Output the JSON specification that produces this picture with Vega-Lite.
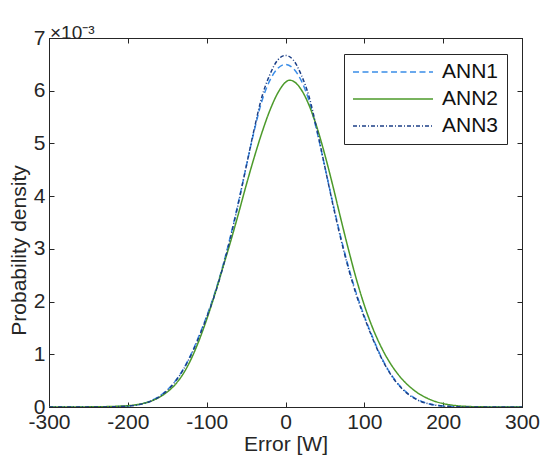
{
  "$schema": "https://vega.github.io/schema/vega-lite/v6.json",
  "width": 473,
  "height": 369,
  "autosize": {"type": "none"},
  "padding": {"left": 49, "top": 38, "right": 18, "bottom": 57},
  "background": "white",
  "title": {"text": "×10⁻³", "anchor": "start", "frame": "group", "fontSize": 19, "font": "Liberation Sans", "fontWeight": "normal", "color": "#262626", "baseline": "alphabetic", "offset": 0, "dy": 31, "dx": 1},
  "config": {
    "view": {"stroke": "#262626", "strokeWidth": 1},
    "axis": {
      "grid": false,
      "domainColor": "#262626",
      "tickColor": "#262626",
      "labelColor": "#262626",
      "titleColor": "#262626",
      "labelFont": "Liberation Sans",
      "titleFont": "Liberation Sans",
      "labelFontSize": 21,
      "titleFontSize": 21,
      "titleFontWeight": "normal",
      "tickSize": -5,
      "labelFlush": false,
      "labelOverlap": false,
      "labelBound": false
    },
    "legend": {
      "orient": "none",
      "legendX": 295,
      "legendY": 16,
      "padding": 8,
      "fillColor": "white",
      "strokeColor": "#262626",
      "symbolType": "stroke",
      "symbolSize": 6400,
      "clipHeight": 20,
      "symbolStrokeWidth": 1.5,
      "labelFont": "Liberation Sans",
      "labelFontSize": 21,
      "labelColor": "#111111",
      "labelOffset": 8,
      "rowPadding": 6,
      "cornerRadius": 0
    }
  },
  "data": {"values": [
    {"error": -300, "density": 0, "model": "ANN1"},
    {"error": -290, "density": 0.00000002, "model": "ANN1"},
    {"error": -280, "density": 0.00000005, "model": "ANN1"},
    {"error": -270, "density": 0.0000001, "model": "ANN1"},
    {"error": -260, "density": 0.0000003, "model": "ANN1"},
    {"error": -250, "density": 0.0000007, "model": "ANN1"},
    {"error": -240, "density": 0.0000015, "model": "ANN1"},
    {"error": -230, "density": 0.000003, "model": "ANN1"},
    {"error": -220, "density": 0.0000045, "model": "ANN1"},
    {"error": -210, "density": 0.0000095, "model": "ANN1"},
    {"error": -200, "density": 0.000019, "model": "ANN1"},
    {"error": -190, "density": 0.000037, "model": "ANN1"},
    {"error": -180, "density": 0.000069, "model": "ANN1"},
    {"error": -170, "density": 0.000122, "model": "ANN1"},
    {"error": -160, "density": 0.000205, "model": "ANN1"},
    {"error": -150, "density": 0.000325, "model": "ANN1"},
    {"error": -140, "density": 0.00049, "model": "ANN1"},
    {"error": -130, "density": 0.00071, "model": "ANN1"},
    {"error": -120, "density": 0.000995, "model": "ANN1"},
    {"error": -110, "density": 0.00134, "model": "ANN1"},
    {"error": -100, "density": 0.00172, "model": "ANN1"},
    {"error": -90, "density": 0.00215, "model": "ANN1"},
    {"error": -80, "density": 0.00265, "model": "ANN1"},
    {"error": -70, "density": 0.00323, "model": "ANN1"},
    {"error": -60, "density": 0.00387, "model": "ANN1"},
    {"error": -50, "density": 0.00455, "model": "ANN1"},
    {"error": -40, "density": 0.00522, "model": "ANN1"},
    {"error": -30, "density": 0.0058, "model": "ANN1"},
    {"error": -20, "density": 0.00619, "model": "ANN1"},
    {"error": -10, "density": 0.00642, "model": "ANN1"},
    {"error": 0, "density": 0.0065, "model": "ANN1"},
    {"error": 10, "density": 0.00642, "model": "ANN1"},
    {"error": 20, "density": 0.00619, "model": "ANN1"},
    {"error": 30, "density": 0.0058, "model": "ANN1"},
    {"error": 40, "density": 0.00522, "model": "ANN1"},
    {"error": 50, "density": 0.00455, "model": "ANN1"},
    {"error": 60, "density": 0.00387, "model": "ANN1"},
    {"error": 70, "density": 0.00323, "model": "ANN1"},
    {"error": 80, "density": 0.00265, "model": "ANN1"},
    {"error": 90, "density": 0.00215, "model": "ANN1"},
    {"error": 100, "density": 0.00172, "model": "ANN1"},
    {"error": 110, "density": 0.00134, "model": "ANN1"},
    {"error": 120, "density": 0.000995, "model": "ANN1"},
    {"error": 130, "density": 0.00071, "model": "ANN1"},
    {"error": 140, "density": 0.00049, "model": "ANN1"},
    {"error": 150, "density": 0.000325, "model": "ANN1"},
    {"error": 160, "density": 0.000205, "model": "ANN1"},
    {"error": 170, "density": 0.000122, "model": "ANN1"},
    {"error": 180, "density": 0.000069, "model": "ANN1"},
    {"error": 190, "density": 0.000037, "model": "ANN1"},
    {"error": 200, "density": 0.000019, "model": "ANN1"},
    {"error": 210, "density": 0.0000095, "model": "ANN1"},
    {"error": 220, "density": 0.0000045, "model": "ANN1"},
    {"error": 230, "density": 0.000002, "model": "ANN1"},
    {"error": 240, "density": 0.000001, "model": "ANN1"},
    {"error": 250, "density": 0.0000005, "model": "ANN1"},
    {"error": 260, "density": 0.0000002, "model": "ANN1"},
    {"error": 270, "density": 0.0000001, "model": "ANN1"},
    {"error": 280, "density": 0.00000005, "model": "ANN1"},
    {"error": 290, "density": 0.00000002, "model": "ANN1"},
    {"error": 300, "density": 0, "model": "ANN1"},

    {"error": -300, "density": 0, "model": "ANN2"},
    {"error": -290, "density": 0.0000002, "model": "ANN2"},
    {"error": -280, "density": 0.0000004, "model": "ANN2"},
    {"error": -270, "density": 0.0000008, "model": "ANN2"},
    {"error": -260, "density": 0.0000015, "model": "ANN2"},
    {"error": -250, "density": 0.0000025, "model": "ANN2"},
    {"error": -240, "density": 0.000004, "model": "ANN2"},
    {"error": -230, "density": 0.000006, "model": "ANN2"},
    {"error": -220, "density": 0.00001, "model": "ANN2"},
    {"error": -210, "density": 0.000016, "model": "ANN2"},
    {"error": -200, "density": 0.000025, "model": "ANN2"},
    {"error": -190, "density": 0.000042, "model": "ANN2"},
    {"error": -180, "density": 0.00007, "model": "ANN2"},
    {"error": -170, "density": 0.000115, "model": "ANN2"},
    {"error": -160, "density": 0.000185, "model": "ANN2"},
    {"error": -150, "density": 0.000285, "model": "ANN2"},
    {"error": -140, "density": 0.000425, "model": "ANN2"},
    {"error": -130, "density": 0.000625, "model": "ANN2"},
    {"error": -120, "density": 0.0009, "model": "ANN2"},
    {"error": -110, "density": 0.00125, "model": "ANN2"},
    {"error": -100, "density": 0.00166, "model": "ANN2"},
    {"error": -90, "density": 0.00212, "model": "ANN2"},
    {"error": -80, "density": 0.00262, "model": "ANN2"},
    {"error": -70, "density": 0.00312, "model": "ANN2"},
    {"error": -60, "density": 0.00365, "model": "ANN2"},
    {"error": -50, "density": 0.0042, "model": "ANN2"},
    {"error": -40, "density": 0.00472, "model": "ANN2"},
    {"error": -30, "density": 0.0052, "model": "ANN2"},
    {"error": -20, "density": 0.00562, "model": "ANN2"},
    {"error": -10, "density": 0.00595, "model": "ANN2"},
    {"error": 0, "density": 0.00616, "model": "ANN2"},
    {"error": 5, "density": 0.0062, "model": "ANN2"},
    {"error": 10, "density": 0.00618, "model": "ANN2"},
    {"error": 20, "density": 0.00602, "model": "ANN2"},
    {"error": 30, "density": 0.00572, "model": "ANN2"},
    {"error": 40, "density": 0.0053, "model": "ANN2"},
    {"error": 50, "density": 0.00478, "model": "ANN2"},
    {"error": 60, "density": 0.0042, "model": "ANN2"},
    {"error": 70, "density": 0.00358, "model": "ANN2"},
    {"error": 80, "density": 0.00298, "model": "ANN2"},
    {"error": 90, "density": 0.00242, "model": "ANN2"},
    {"error": 100, "density": 0.00193, "model": "ANN2"},
    {"error": 110, "density": 0.00152, "model": "ANN2"},
    {"error": 120, "density": 0.00118, "model": "ANN2"},
    {"error": 130, "density": 0.0009, "model": "ANN2"},
    {"error": 140, "density": 0.000675, "model": "ANN2"},
    {"error": 150, "density": 0.000495, "model": "ANN2"},
    {"error": 160, "density": 0.000355, "model": "ANN2"},
    {"error": 170, "density": 0.000245, "model": "ANN2"},
    {"error": 180, "density": 0.000165, "model": "ANN2"},
    {"error": 190, "density": 0.000105, "model": "ANN2"},
    {"error": 200, "density": 0.000065, "model": "ANN2"},
    {"error": 210, "density": 0.000038, "model": "ANN2"},
    {"error": 220, "density": 0.000021, "model": "ANN2"},
    {"error": 230, "density": 0.000011, "model": "ANN2"},
    {"error": 240, "density": 0.0000055, "model": "ANN2"},
    {"error": 250, "density": 0.000003, "model": "ANN2"},
    {"error": 260, "density": 0.0000015, "model": "ANN2"},
    {"error": 270, "density": 0.0000008, "model": "ANN2"},
    {"error": 280, "density": 0.0000004, "model": "ANN2"},
    {"error": 290, "density": 0.0000002, "model": "ANN2"},
    {"error": 300, "density": 0, "model": "ANN2"},

    {"error": -300, "density": 0, "model": "ANN3"},
    {"error": -290, "density": 0.00000002, "model": "ANN3"},
    {"error": -280, "density": 0.00000005, "model": "ANN3"},
    {"error": -270, "density": 0.0000001, "model": "ANN3"},
    {"error": -260, "density": 0.0000002, "model": "ANN3"},
    {"error": -250, "density": 0.0000005, "model": "ANN3"},
    {"error": -240, "density": 0.000001, "model": "ANN3"},
    {"error": -230, "density": 0.000002, "model": "ANN3"},
    {"error": -220, "density": 0.000004, "model": "ANN3"},
    {"error": -210, "density": 0.0000085, "model": "ANN3"},
    {"error": -200, "density": 0.000018, "model": "ANN3"},
    {"error": -190, "density": 0.000035, "model": "ANN3"},
    {"error": -180, "density": 0.000065, "model": "ANN3"},
    {"error": -170, "density": 0.000115, "model": "ANN3"},
    {"error": -160, "density": 0.000195, "model": "ANN3"},
    {"error": -150, "density": 0.000315, "model": "ANN3"},
    {"error": -140, "density": 0.00048, "model": "ANN3"},
    {"error": -130, "density": 0.0007, "model": "ANN3"},
    {"error": -120, "density": 0.00098, "model": "ANN3"},
    {"error": -110, "density": 0.00132, "model": "ANN3"},
    {"error": -100, "density": 0.0017, "model": "ANN3"},
    {"error": -90, "density": 0.00212, "model": "ANN3"},
    {"error": -80, "density": 0.00262, "model": "ANN3"},
    {"error": -70, "density": 0.0032, "model": "ANN3"},
    {"error": -60, "density": 0.00385, "model": "ANN3"},
    {"error": -50, "density": 0.00455, "model": "ANN3"},
    {"error": -40, "density": 0.00525, "model": "ANN3"},
    {"error": -30, "density": 0.00588, "model": "ANN3"},
    {"error": -20, "density": 0.0063, "model": "ANN3"},
    {"error": -10, "density": 0.00658, "model": "ANN3"},
    {"error": 0, "density": 0.00667, "model": "ANN3"},
    {"error": 10, "density": 0.00658, "model": "ANN3"},
    {"error": 20, "density": 0.0063, "model": "ANN3"},
    {"error": 30, "density": 0.00588, "model": "ANN3"},
    {"error": 40, "density": 0.00525, "model": "ANN3"},
    {"error": 50, "density": 0.00455, "model": "ANN3"},
    {"error": 60, "density": 0.00385, "model": "ANN3"},
    {"error": 70, "density": 0.0032, "model": "ANN3"},
    {"error": 80, "density": 0.00262, "model": "ANN3"},
    {"error": 90, "density": 0.00212, "model": "ANN3"},
    {"error": 100, "density": 0.0017, "model": "ANN3"},
    {"error": 110, "density": 0.00132, "model": "ANN3"},
    {"error": 120, "density": 0.00098, "model": "ANN3"},
    {"error": 130, "density": 0.0007, "model": "ANN3"},
    {"error": 140, "density": 0.00048, "model": "ANN3"},
    {"error": 150, "density": 0.000315, "model": "ANN3"},
    {"error": 160, "density": 0.000195, "model": "ANN3"},
    {"error": 170, "density": 0.000115, "model": "ANN3"},
    {"error": 180, "density": 0.000065, "model": "ANN3"},
    {"error": 190, "density": 0.000035, "model": "ANN3"},
    {"error": 200, "density": 0.000018, "model": "ANN3"},
    {"error": 210, "density": 0.0000085, "model": "ANN3"},
    {"error": 220, "density": 0.000004, "model": "ANN3"},
    {"error": 230, "density": 0.000002, "model": "ANN3"},
    {"error": 240, "density": 0.000001, "model": "ANN3"},
    {"error": 250, "density": 0.0000005, "model": "ANN3"},
    {"error": 260, "density": 0.0000002, "model": "ANN3"},
    {"error": 270, "density": 0.0000001, "model": "ANN3"},
    {"error": 280, "density": 0.00000005, "model": "ANN3"},
    {"error": 290, "density": 0.00000002, "model": "ANN3"},
    {"error": 300, "density": 0, "model": "ANN3"}
  ]},
  "layer": [
    {
      "mark": {"type": "line", "strokeWidth": 1.5, "interpolate": "monotone", "clip": true},
      "encoding": {
        "x": {
          "field": "error", "type": "quantitative",
          "scale": {"domain": [-300, 300], "nice": false},
          "axis": {"orient": "bottom", "values": [-300, -200, -100, 0, 100, 200, 300], "labelExpr": "toString(datum.value)", "title": "Error [W]", "labelPadding": 9, "titlePadding": 1}
        },
        "y": {
          "field": "density", "type": "quantitative",
          "scale": {"domain": [0, 0.007], "nice": false},
          "axis": {"orient": "left", "values": [0, 0.001, 0.002, 0.003, 0.004, 0.005, 0.006, 0.007], "labelExpr": "round(datum.value*1000)", "title": "Probability density", "labelPadding": 9, "titlePadding": 4, "titleY": 212, "titleAlign": "center"}
        },
        "color": {
          "field": "model", "type": "nominal",
          "scale": {"domain": ["ANN1", "ANN2", "ANN3"], "range": ["#3a8de8", "#4c9a2a", "#1c3f87"]},
          "legend": {"title": null}
        },
        "strokeDash": {
          "field": "model", "type": "nominal",
          "scale": {"domain": ["ANN1", "ANN2", "ANN3"], "range": [[6, 3.5], [1, 0], [4, 2, 1, 2]]},
          "legend": {"title": null}
        }
      }
    },
    {
      "mark": {"type": "line", "opacity": 0},
      "encoding": {
        "x": {"field": "error", "type": "quantitative", "axis": {"orient": "top", "values": [-300, -200, -100, 0, 100, 200, 300], "labels": false, "title": null, "minExtent": 0, "maxExtent": 0, "offset": 0}},
        "y": {"field": "density", "type": "quantitative", "axis": {"orient": "right", "values": [0, 0.001, 0.002, 0.003, 0.004, 0.005, 0.006, 0.007], "labels": false, "title": null, "minExtent": 0, "maxExtent": 0}},
        "detail": {"field": "model"}
      }
    }
  ],
  "resolve": {"axis": {"x": "independent", "y": "independent"}}
}
